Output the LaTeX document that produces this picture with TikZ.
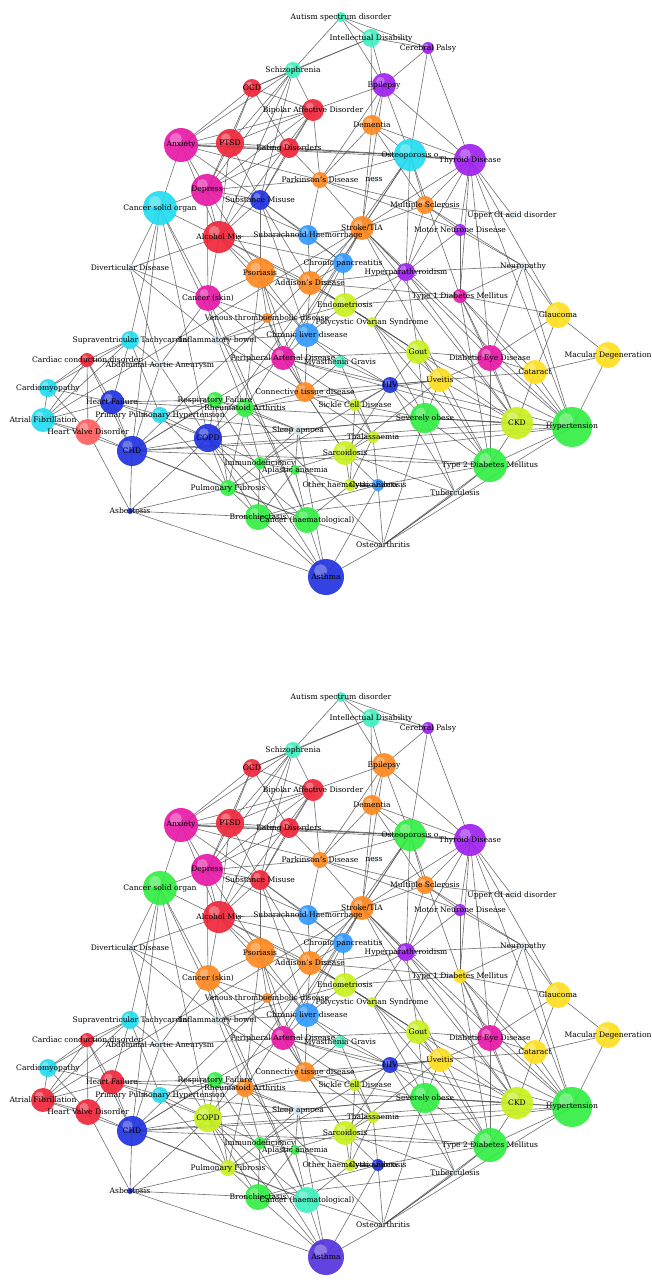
\documentclass[tikz,border=0pt]{standalone}
\usepackage{fontspec}
\usetikzlibrary{calc}
\setmainfont{DejaVu Serif}
\definecolor{mag}{HTML}{E81AA8}
\definecolor{rd}{HTML}{F0283C}
\definecolor{cy}{HTML}{22DDF0}
\definecolor{bl}{HTML}{2233E0}
\definecolor{lb}{HTML}{3399FF}
\definecolor{og}{HTML}{FF8A22}
\definecolor{yg}{HTML}{C8F020}
\definecolor{ye}{HTML}{FFE020}
\definecolor{gr}{HTML}{33EE44}
\definecolor{aq}{HTML}{40F0C0}
\definecolor{pu}{HTML}{A022F0}
\definecolor{sa}{HTML}{FF6060}
\definecolor{vb}{HTML}{5533DD}
\definecolor{sm}{HTML}{D8E8F0}
\begin{document}
\begin{tikzpicture}[x=1pt,y=-1pt,
 edge/.style={draw=black!70,line width=0.6pt,opacity=0.8},
 dot/.style={circle,draw=none,inner sep=0pt,fill opacity=0.92},
 lbl/.style={font=\fontsize{7.6}{8}\selectfont,text=black,inner sep=0pt}]
\fill[white] (0,0) rectangle (652,1280);
\useasboundingbox (0,0) rectangle (652,1280);
\def\nodelist{asd/341/17/5/aq/aq/{Autism spectrum disorder},
id/371/38/9/aq/aq/{Intellectual Disability},
cp/428/48/6/pu/pu/{Cerebral Palsy},
scz/293/70/8/aq/aq/{Schizophrenia},
ocd/252/88/9/rd/rd/{OCD},
epi/384/85/12/pu/og/{Epilepsy},
bad/313/110/11/rd/rd/{Bipolar Affective Disorder},
dem/372/125/10/og/og/{Dementia},
anx/181/145/17/mag/mag/{Anxiety},
ptsd/230/143/14/rd/rd/{PTSD},
ed/289/148/10/rd/rd/{Eating Disorders},
ost/410/155/16/cy/gr/{Osteoporosis o},
thy/470/160/16/pu/pu/{Thyroid Disease},
pd/320/180/8/og/og/{Parkinson's Disease},
ness/374/180/3/sm/sm/{ness},
dep/207/190/16/mag/mag/{Depress},
sub/260/200/10/bl/rd/{Substance Misuse},
cso/160/208/17/cy/gr/{Cancer solid organ},
ms/425/205/9/og/og/{Multiple Sclerosis},
ugi/512/215/4/sm/sm/{Upper GI acid disorder},
alc/219/237/16/rd/rd/{Alcohol Mis},
sah/308/235/10/lb/lb/{Subarachnoid Haemorrhage},
str/362/228/12/og/og/{Stroke/TIA},
mnd/460/230/6/pu/pu/{Motor Neurone Disease},
div/130/268/4/sm/sm/{Diverticular Disease},
cpan/343/263/10/lb/lb/{Chronic pancreatitis},
pso/260/273/15/og/og/{Psoriasis},
add/310/283/12/og/og/{Addison's Disease},
hpt/406/272/9/pu/pu/{Hyperparathyroidism},
neu/523/266/4/sm/sm/{Neuropathy},
t1d/460/296/7/mag/ye/{Type 1 Diabetes Mellitus},
csk/208/298/13/mag/og/{Cancer (skin)},
endo/345/305/12/yg/yg/{Endometriosis},
gla/558/315/13/ye/ye/{Glaucoma},
vte/267/318/5/og/og/{Venous thromboembolic disease},
pcos/372/322/5/yg/yg/{Polycystic Ovarian Syndrome},
svt/130/340/9/cy/cy/{Supraventricular Tachycardia},
ibd/218/340/5/sm/sm/{Inflammatory bowel},
cld/307/335/12/lb/lb/{Chronic liver disease},
ccd/87/360/7/rd/rd/{Cardiac conduction disorder},
aaa/160/365/5/sm/sm/{Abdominal Aortic Aneurysm},
pad/283/358/12/mag/mag/{Peripheral Arterial Disease},
mg/340/362/6/aq/aq/{Myasthenia Gravis},
gout/418/352/12/yg/yg/{Gout},
dedi/490/358/13/mag/mag/{Diabetic Eye Disease},
mac/608/355/13/ye/ye/{Macular Degeneration},
cat/535/372/12/ye/ye/{Cataract},
cm/48/388/9/cy/cy/{Cardiomyopathy},
uve/440/380/12/ye/ye/{Uveitis},
hf/112/402/12/bl/rd/{Heart Failure},
rf/215/400/8/gr/gr/{Respiratory Failure},
ctd/305/392/10/og/og/{Connective tissue disease},
hiv/390/385/8/bl/bl/{HIV},
pph/160/415/8/cy/cy/{Primary Pulmonary Hypertension},
ra/245/408/9/gr/og/{Rheumatoid Arthritis},
scd/355/405/6/yg/yg/{Sickle Cell Disease},
obe/425/418/15/gr/gr/{Severely obese},
ckd/517/423/16/yg/yg/{CKD},
htn/572/427/20/gr/gr/{Hypertension},
af/43/420/12/cy/rd/{Atrial Fibrillation},
hvd/88/432/13/sa/rd/{Heart Valve Disorder},
copd/208/438/14/bl/yg/{COPD},
sa/298/430/5/sm/sm/{Sleep apnoea},
thal/373/437/6/yg/yg/{Thalassaemia},
chd/132/451/15/bl/bl/{CHD},
sarc/345/453/12/yg/yg/{Sarcoidosis},
imm/260/463/6/gr/gr/{Immunodeficiency},
apl/295/470/5/gr/gr/{Aplastic anaemia},
t2d/490/465/17/gr/gr/{Type 2 Diabetes Mellitus},
pf/228/488/8/gr/yg/{Pulmonary Fibrosis},
oha/350/485/6/yg/yg/{Other haemolytic anaem},
cf/378/485/6/lb/bl/{Cystic Fibrosis},
tb/455/493/3/sm/sm/{Tuberculosis},
asb/130/511/3/bl/bl/{Asbestosis},
bron/258/517/13/gr/gr/{Bronchiectasis},
ch/307/520/13/gr/aq/{Cancer (haematological)},
oa/383/545/3/sm/sm/{Osteoarthritis},
asth/326/577/18/bl/vb/{Asthma}}
\def\edgelist{asd/id, asd/scz, asd/epi, asd/cp, id/cp, id/epi, id/scz, id/dem, id/ocd, cp/epi, cp/thy, cp/ost, scz/ocd, scz/bad, scz/anx, scz/ptsd, scz/sub, scz/alc, scz/dep, ocd/anx, ocd/ptsd, ocd/ed, ocd/bad, ocd/dep, epi/dem, epi/bad, epi/ost, epi/thy, epi/pd, epi/str, bad/ptsd, bad/ed, bad/dep, bad/sub, bad/alc, bad/anx, dem/pd, dem/ost, dem/str, dem/ms, dem/thy, anx/ptsd, anx/ed, anx/dep, anx/sub, anx/alc, anx/cso, anx/thy, anx/ost, ptsd/ed, ptsd/dep, ptsd/sub, ptsd/alc, ed/dep, ed/sub, ed/ost, ed/thy, ost/thy, ost/pd, ost/ms, ost/ra, ost/hpt, ost/copd, thy/ms, thy/ugi, thy/t1d, thy/dedi, thy/gla, thy/mnd, thy/htn, pd/dep, pd/str, pd/ms, pd/mnd, dep/sub, dep/alc, dep/cso, dep/pso, dep/csk, sub/alc, sub/sah, sub/cld, sub/cpan, cso/alc, cso/csk, cso/div, cso/svt, cso/copd, cso/chd, cso/ch, ms/mnd, ms/str, ms/ugi, ms/neu, alc/sah, alc/pso, alc/cpan, alc/cld, alc/csk, alc/div, sah/str, sah/add, sah/cpan, str/hpt, str/af, str/htn, str/chd, str/pad, str/dedi, mnd/neu, mnd/t1d, div/csk, div/aaa, div/ibd, cpan/cld, cpan/add, cpan/endo, pso/add, pso/ra, pso/ctd, pso/csk, pso/vte, add/t1d, add/endo, add/hpt, hpt/ckd, hpt/gout, hpt/neu, neu/t1d, neu/gla, neu/dedi, neu/htn, t1d/dedi, t1d/gla, t1d/cat, t1d/ckd, csk/vte, csk/ibd, csk/aaa, endo/pcos, endo/ibd, endo/cld, gla/mac, gla/cat, gla/dedi, vte/pad, vte/ctd, pcos/gout, pcos/obe, pcos/t2d, svt/ccd, svt/cm, svt/aaa, svt/hf, svt/af, ibd/cld, ibd/ra, ibd/ctd, cld/hiv, cld/pad, ccd/cm, ccd/hf, ccd/af, ccd/hvd, aaa/pad, aaa/chd, aaa/copd, pad/chd, pad/htn, pad/ckd, mg/ctd, mg/thal, gout/ckd, gout/htn, gout/obe, gout/uve, dedi/cat, dedi/ckd, dedi/htn, dedi/t2d, mac/cat, mac/htn, cat/uve, cat/ckd, cat/htn, cm/hf, cm/af, uve/ra, uve/sarc, uve/ctd, hf/af, hf/hvd, hf/chd, hf/copd, hf/pph, rf/copd, rf/pf, rf/asth, rf/sa, ctd/ra, ctd/sarc, hiv/tb, hiv/scd, hiv/imm, pph/copd, pph/pf, pph/sa, ra/imm, ra/pf, ra/oa, scd/thal, scd/oha, obe/sa, obe/t2d, obe/oa, obe/ckd, obe/htn, ckd/htn, ckd/t2d, htn/t2d, htn/chd, htn/oa, af/hvd, af/chd, hvd/chd, copd/chd, copd/asth, copd/bron, copd/asb, copd/pf, copd/ch, sa/asth, thal/oha, chd/asb, chd/t2d, chd/ckd, sarc/pf, sarc/imm, sarc/tb, imm/apl, imm/bron, apl/oha, apl/ch, t2d/oa, t2d/tb, pf/asb, pf/bron, oha/ch, cf/bron, cf/asth, cf/oa, tb/bron, asb/bron, asb/asth, bron/asth, ch/asth, ch/oa, oa/asth, oa/tb, gout/pad, hiv/uve, endo/gout, obe/copd, ckd/hf, t2d/sarc, sub/pso, str/cpan,
alc/add, alc/endo, pso/cld, pso/pad, add/cld, add/pcos, add/gout, cld/mg, cld/ctd, pad/ctd, pad/scd, pad/sarc, ctd/scd, ctd/thal, mg/hiv, hiv/gout, hiv/obe, hiv/sarc, scd/obe, thal/sarc, thal/cf, oha/cf, sarc/oha, sarc/cf, imm/sa, apl/sa, rf/hf, rf/chd, rf/ra, rf/pph, ra/sa, ra/copd, csk/ch, csk/pad, vte/ibd, endo/hpt, endo/t1d, pcos/hpt, pcos/uve, uve/obe, uve/ckd, gout/t2d, gout/dedi, t1d/t2d, t1d/htn, dedi/uve, str/ckd, str/t2d, ms/hpt, mnd/hpt, ost/t1d, ost/str, thy/str, thy/hpt, pd/sah, dep/sah, sub/add, bad/pd, ed/pd, anx/pd, svt/pph, cm/hvd, ccd/aaa, ccd/chd, hvd/asb, chd/pf, chd/ch, copd/imm, pf/ch, bron/ch, imm/pf, apl/bron, cf/t2d, tb/oa, obe/tb, htn/sarc}
\foreach \p/\off in {1/0,2/680}{
 \foreach \id/\x/\y/\r/\ca/\cb/\lab in \nodelist
   {\coordinate (p\p\id) at (\x,\y+\off);}
 \foreach \a/\b in \edgelist {\draw[edge] (p\p\a) -- (p\p\b);}
 \foreach \id/\x/\y/\r/\ca/\cb/\lab in \nodelist {
   \ifnum\p=1 \edef\cc{\ca}\else\edef\cc{\cb}\fi
   \node[dot,fill=\cc,minimum size={2*\r pt}] (n\p\id) at (p\p\id) {};
   \fill[white,opacity=0.3] ($(p\p\id)+(-0.3*\r,-0.35*\r)$) circle ({0.35*\r});
 }
 \foreach \id/\x/\y/\r/\ca/\cb/\lab in \nodelist
   {\node[lbl] (t\p\id) at (p\p\id) {\lab};}
}
\end{tikzpicture}
\end{document}
